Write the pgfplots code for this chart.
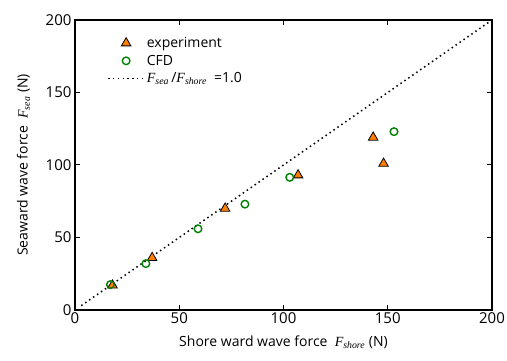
\documentclass[border=0pt]{standalone}
\usepackage{pgfplots}
\pgfplotsset{compat=1.18}
\usepackage{fontspec}
\setmainfont{Open Sans}
\newfontfamily\tms{Liberation Serif}
\definecolor{cfdgreen}{RGB}{0,128,0}
\definecolor{exporange}{RGB}{255,128,0}
\newcommand{\Fs}[1]{{\tms\itshape F\textsubscript{#1}}}
\pgfplotsset{
  legmark/.style={legend image code/.code={\draw[mark repeat=2,mark phase=2,##1] plot coordinates {(0pt,0pt) (18pt,0pt) (36pt,0pt)};}},
  legline/.style={legend image code/.code={\draw[##1] (0pt,0pt) -- (36pt,0pt);}},
}
\begin{document}
\begin{tikzpicture}[x=1pt,y=1pt]
\begin{axis}[
  scale only axis,
  width=417pt, height=290pt,
  xmin=0, xmax=200, ymin=0, ymax=200,
  xtick={0,50,100,150,200}, ytick={0,50,100,150,200},
  tick align=inside, tick pos=both,
  major tick length=5pt,
  axis line style={line width=1.2pt},
  every tick/.style={black, line width=1pt},
  /pgf/number format/assume math mode=true,
  tick label style={font=\fontsize{15}{17}\selectfont},
  xticklabel style={yshift=1pt},
  xlabel={Shore ward wave force \ \Fs{shore} (N)},
  ylabel={Seaward wave force \ \Fs{sea} (N)},
  label style={font=\fontsize{14}{16}\selectfont},
  xlabel style={yshift=-5pt},
  ylabel style={yshift=9pt},
  legend style={draw=none, fill=none, at={(0.07,0.955)}, anchor=north west,
    font=\fontsize{14}{16}\selectfont, row sep=2pt},
  legend cell align=left,
  clip=false,
]
\addplot[only marks, mark=triangle*, mark size=5.5pt, mark options={fill=exporange, draw=black, line width=0.8pt}, legmark]
  coordinates {(18,17) (37,36) (72,70) (107,93) (143,119) (148,101)};
\addlegendentry{experiment}
\addplot[only marks, mark=o, mark size=3.8pt, mark options={draw=cfdgreen, line width=1.4pt}, legmark]
  coordinates {(17,17.5) (34,32) (59,56) (81.5,73) (103,91.5) (153,123)};
\addlegendentry{CFD}
\addplot[black, line width=1.5pt, dash pattern=on 1.5pt off 3.3pt, legline]
  coordinates {(3,3) (200,200)};
\addlegendentry{\Fs{sea}\,/\Fs{shore} \ =1.0}
\end{axis}
\pgfresetboundingbox
\useasboundingbox (-75pt,-51pt) rectangle (432pt,310pt);
\end{tikzpicture}
\end{document}
